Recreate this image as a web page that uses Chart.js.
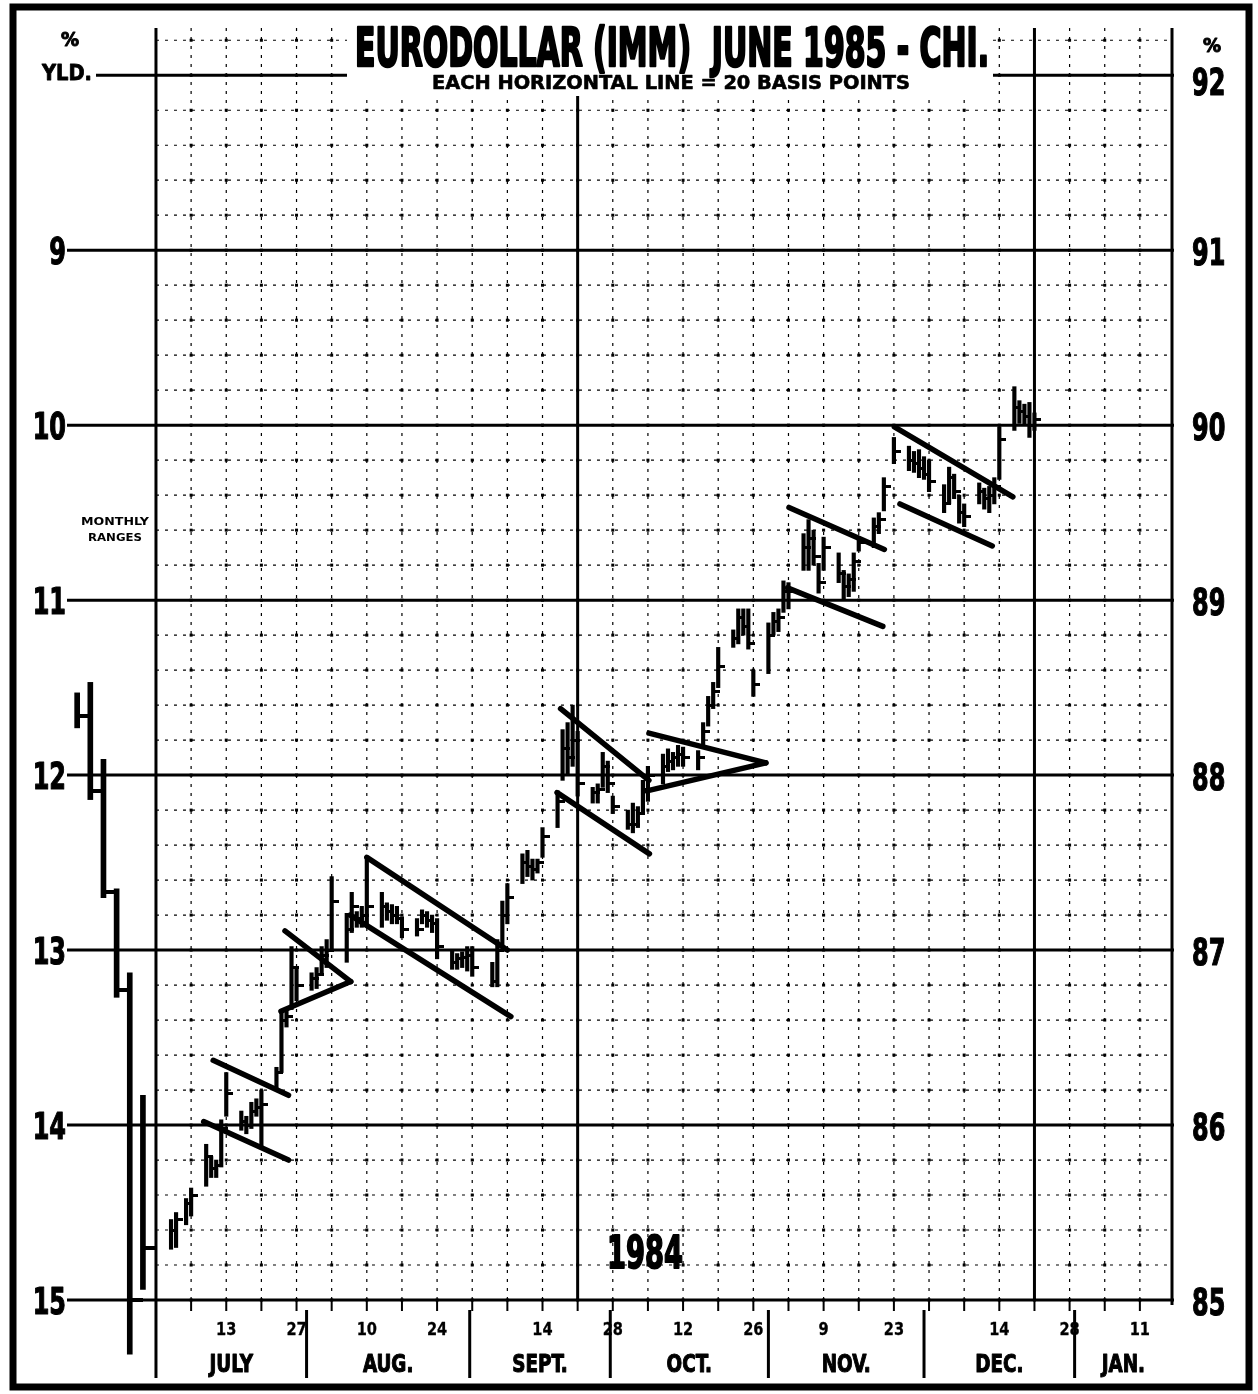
<!DOCTYPE html>
<html><head><meta charset="utf-8">
<script src="https://cdn.jsdelivr.net/npm/chart.js@4.4.1/dist/chart.umd.min.js"></script>
<style>html,body{margin:0;padding:0;background:#fff}#wrap{width:1258px;height:1394px;position:relative}</style>
</head><body><div id="wrap"><canvas id="c"></canvas></div>
<script>
// ---- DATA ----
// Daily June 1985 Eurodollar futures (IMM) bars, 1984
const dates = [
'1984-07-02','1984-07-03','1984-07-05','1984-07-06','1984-07-09','1984-07-10','1984-07-11','1984-07-12','1984-07-13',
'1984-07-16','1984-07-17','1984-07-18','1984-07-19','1984-07-20','1984-07-23','1984-07-24','1984-07-25','1984-07-26','1984-07-27',
'1984-07-30','1984-07-31','1984-08-01','1984-08-02','1984-08-03','1984-08-06','1984-08-07','1984-08-08','1984-08-09','1984-08-10',
'1984-08-13','1984-08-14','1984-08-15','1984-08-16','1984-08-17','1984-08-20','1984-08-21','1984-08-22','1984-08-23','1984-08-24',
'1984-08-27','1984-08-28','1984-08-29','1984-08-30','1984-08-31','1984-09-04','1984-09-05','1984-09-06','1984-09-07',
'1984-09-10','1984-09-11','1984-09-12','1984-09-13','1984-09-14','1984-09-17','1984-09-18','1984-09-19','1984-09-20','1984-09-21',
'1984-09-24','1984-09-25','1984-09-26','1984-09-27','1984-09-28','1984-10-01','1984-10-02','1984-10-03','1984-10-04','1984-10-05',
'1984-10-08','1984-10-09','1984-10-10','1984-10-11','1984-10-12','1984-10-15','1984-10-16','1984-10-17','1984-10-18','1984-10-19',
'1984-10-22','1984-10-23','1984-10-24','1984-10-25','1984-10-26','1984-10-29','1984-10-30','1984-10-31','1984-11-01','1984-11-02',
'1984-11-05','1984-11-06','1984-11-07','1984-11-08','1984-11-09','1984-11-12','1984-11-13','1984-11-14','1984-11-15','1984-11-16',
'1984-11-19','1984-11-20','1984-11-21','1984-11-23','1984-11-26','1984-11-27','1984-11-28','1984-11-29','1984-11-30',
'1984-12-03','1984-12-04','1984-12-05','1984-12-06','1984-12-07','1984-12-10','1984-12-11','1984-12-12','1984-12-13','1984-12-14',
'1984-12-17','1984-12-18','1984-12-19','1984-12-20','1984-12-21'];
const highs = [
85.46,85.50,85.58,85.64,85.89,85.82,85.80,86.03,86.30,
86.08,86.05,86.13,86.15,86.20,86.33,86.66,86.67,87.02,86.89,
86.87,86.90,87.02,87.06,87.42,87.21,87.33,87.22,87.25,87.53,
87.33,87.27,87.26,87.25,87.19,87.18,87.23,87.22,87.20,87.18,
87.00,86.98,86.99,87.02,87.02,86.93,87.06,87.28,87.38,
87.55,87.57,87.52,87.52,87.70,87.91,88.26,88.30,88.40,88.25,
87.93,87.95,88.13,88.08,87.88,87.80,87.84,87.82,87.97,88.05,
88.12,88.15,88.13,88.17,88.16,88.14,88.30,88.45,88.53,88.73,
88.83,88.95,88.95,88.95,88.60,88.87,88.93,88.95,89.11,89.10,
89.38,89.46,89.40,89.21,89.36,89.27,89.17,89.15,89.27,89.36,
89.47,89.50,89.70,89.93,89.88,89.85,89.86,89.82,89.80,
89.66,89.76,89.72,89.60,89.55,89.67,89.64,89.65,89.70,89.99,
90.22,90.14,90.12,90.13,90.07];
const lows = [
85.29,85.30,85.43,85.48,85.65,85.70,85.70,85.76,86.05,
85.97,85.95,85.98,86.05,85.87,86.20,86.30,86.56,86.66,86.71,
86.77,86.78,86.87,86.90,87.00,86.93,87.10,87.13,87.13,87.15,
87.13,87.17,87.15,87.15,87.07,87.08,87.15,87.13,87.10,86.95,
86.89,86.89,86.90,86.88,86.85,86.79,86.79,87.02,87.15,
87.38,87.42,87.40,87.44,87.53,87.70,87.97,88.00,88.05,87.88,
87.84,87.84,87.93,87.90,87.78,87.69,87.67,87.70,87.78,87.85,
87.95,88.02,88.03,88.05,88.05,88.03,88.17,88.28,88.38,88.50,
88.73,88.75,88.80,88.72,88.45,88.58,88.80,88.82,88.93,88.95,
89.17,89.17,89.20,89.04,89.17,89.10,89.00,89.02,89.05,89.28,
89.30,89.38,89.51,89.78,89.74,89.73,89.70,89.69,89.62,
89.50,89.55,89.58,89.44,89.42,89.55,89.52,89.50,89.55,89.69,
89.97,90.01,90.00,89.93,89.97];
const closes = [
85.40,85.46,85.55,85.60,85.82,85.75,85.77,85.98,86.18,
86.02,86.00,86.08,86.10,86.12,86.30,86.60,86.62,86.90,86.80,
86.84,86.86,86.97,87.00,87.28,87.12,87.25,87.18,87.20,87.25,
87.25,87.22,87.20,87.18,87.12,87.12,87.20,87.17,87.15,87.02,
86.93,86.95,86.96,86.97,86.90,86.82,87.00,87.20,87.30,
87.50,87.48,87.46,87.50,87.65,87.85,88.15,88.10,88.20,87.95,
87.90,87.92,88.05,87.95,87.82,87.72,87.72,87.78,87.92,88.00,
88.05,88.08,88.10,88.12,88.10,88.10,88.25,88.40,88.48,88.62,
88.78,88.90,88.85,88.75,88.52,88.80,88.88,88.90,89.05,89.05,
89.30,89.35,89.25,89.10,89.30,89.15,89.08,89.12,89.22,89.33,
89.42,89.46,89.65,89.85,89.80,89.78,89.75,89.72,89.68,
89.55,89.70,89.62,89.50,89.48,89.62,89.58,89.60,89.65,89.92,
90.10,90.08,90.05,90.00,90.03];

// Monthly ranges (left margin), first half of 1984
const monthlyLabels = ['JAN','FEB','MAR','APR','MAY','JUN'];
const monthlyHighs  = [88.47, 88.53, 88.09, 87.35, 86.87, 86.17];
const monthlyLows   = [88.27, 87.86, 87.30, 86.73, 84.69, 85.06];
const monthlyCloses = [88.34, 87.91, 87.33, 86.77, 85.00, 85.30];

// Hand-drawn trend lines: [day offset from 29 Jun 1984, price] pairs
const trendLines = [
  [[11.4,86.37],[26.4,86.17]],
  [[9.5,86.02],[26.4,85.80]],
  [[25.7,87.11],[38.8,86.82]],
  [[24.9,86.65],[38.8,86.82]],
  [[42.0,87.53],[70.0,87.00]],
  [[38.7,87.20],[70.7,86.62]],
  [[80.6,88.38],[98.2,87.97]],
  [[79.9,87.90],[98.3,87.55]],
  [[98.2,88.24],[121.5,88.07]],
  [[97.8,87.91],[121.5,88.07]],
  [[126.1,89.53],[145.1,89.29]],
  [[125.8,89.07],[144.8,88.85]],
  [[147.1,89.99],[170.7,89.59]],
  [[148.2,89.55],[166.6,89.31]]
];

// Axis text
const tickDates = ['1984-07-13','1984-07-27','1984-08-10','1984-08-24','1984-09-14','1984-09-28','1984-10-12','1984-10-26','1984-11-09','1984-11-23','1984-12-14','1984-12-28','1985-01-11'];
const monthNames = ['JULY','AUG.','SEPT.','OCT.','NOV.','DEC.','JAN.'];
const monthBreakDays = [0, 30, 62.5, 90.5, 122, 153, 183];
const priceLevels = [85, 86, 87, 88, 89, 90, 91, 92];
const quarterLineDays = [0, 84, 175];

// ---- helpers ----
const BASE = Date.UTC(1984, 5, 29);
const day = s => (Date.parse(s + 'T00:00:00Z') - BASE) / 864e5;
const F = "'DejaVu Sans Condensed','DejaVu Sans',sans-serif";

function tickImage(len, th) {
  const c = document.createElement('canvas');
  c.width = len * 2; c.height = th;
  const g = c.getContext('2d');
  g.fillStyle = '#000'; g.fillRect(len, 0, len, th);
  return c;
}
function txt(ctx, s, x, y, o) {
  ctx.save();
  ctx.font = o.font; ctx.fillStyle = '#000'; ctx.textBaseline = 'alphabetic'; ctx.textAlign = 'left';
  const w = ctx.measureText(s).width;
  const sx = o.sx || (o.w ? o.w / w : 1);
  const align = o.align || 'center';
  const left = align === 'center' ? x - w * sx / 2 : align === 'right' ? x - w * sx : x;
  ctx.translate(left, y); ctx.scale(sx, 1);
  ctx.fillText(s, 0, 0);
  if (o.stroke) { ctx.lineWidth = o.stroke; ctx.strokeStyle = '#000'; ctx.lineJoin = 'round'; ctx.strokeText(s, 0, 0); }
  ctx.restore();
}
function seg(ctx, x1, y1, x2, y2) { ctx.beginPath(); ctx.moveTo(x1, y1); ctx.lineTo(x2, y2); ctx.stroke(); }

const monthlyX = monthlyLabels.map((m, i) => -15.7 + i * 2.62);

const gridPlugin = {
  id: 'chartPaper',
  beforeDatasetsDraw(chart) {
    const ctx = chart.ctx, a = chart.chartArea;
    const X = v => chart.scales.x.getPixelForValue(v), Y = v => chart.scales.y.getPixelForValue(v);
    const x0 = X(0), xR = a.right, yT = a.top, yB = a.bottom;
    ctx.save();
    ctx.strokeStyle = '#000'; ctx.fillStyle = '#000';
    // dashed rows every 20 basis points
    ctx.lineWidth = 1.2; ctx.setLineDash([3, 6]);
    for (let k = 1; k <= 36; k++) { if (k % 5 === 0) continue; const y = Y(85 + k / 5); seg(ctx, x0, y, xR, y); }
    // dashed weekly columns
    for (let d = 7; d <= 196; d += 7) { if (quarterLineDays.includes(d)) continue; const x = X(d); seg(ctx, x, yT, x, yB); }
    ctx.setLineDash([]);
    // intersection dots
    for (let d = 7; d <= 196; d += 7) for (let k = 0; k <= 36; k++) { ctx.fillRect(X(d) - 1.5, Y(85 + k / 5) - 1.5, 3, 3); }
    // solid integer lines
    ctx.lineWidth = 3;
    priceLevels.forEach(p => { const y = Y(p); seg(ctx, p === 92 ? 96 : 67, y, xR + 2, y); });
    // quarter / border verticals
    quarterLineDays.forEach(d => { const x = X(d); seg(ctx, x, yT, x, d === 0 ? 1378 : yB); });
    seg(ctx, xR, yT, xR, yB + 5);
    // weekly ticks under axis
    ctx.lineWidth = 2;
    for (let d = 0; d <= 196; d += 7) { const x = X(d); seg(ctx, x, yB, x, yB + 11); }
    // month separators
    ctx.lineWidth = 3;
    monthBreakDays.slice(1).forEach(d => { const x = X(d); seg(ctx, x, yB + 10, x, 1378); });
    // title knock-out
    ctx.fillStyle = '#fff'; ctx.fillRect(347, 20, 646, 76);
    ctx.restore();
  },
  afterDraw(chart) {
    const ctx = chart.ctx, a = chart.chartArea;
    const X = v => chart.scales.x.getPixelForValue(v), Y = v => chart.scales.y.getPixelForValue(v);
    ctx.save();
    // frame
    ctx.strokeStyle = '#000'; ctx.lineWidth = 7; ctx.strokeRect(13, 7, 1236, 1380);
    // title
    txt(ctx, 'EURODOLLAR (IMM)  JUNE 1985 - CHI.', 672, 66, {font: 'bold 54px ' + F, w: 634, stroke: 2.6});
    txt(ctx, 'EACH HORIZONTAL LINE = 20 BASIS POINTS', 671, 89, {font: 'bold 20px ' + F, w: 478, stroke: 0.6});
    // left yield axis
    txt(ctx, '%', 70, 46, {font: 'bold 20px ' + F, stroke: 1});
    txt(ctx, 'YLD.', 42, 80, {font: 'bold 22px ' + F, w: 50, align: 'left', stroke: 0.8});
    priceLevels.filter(p => p < 92).forEach(p => {
      txt(ctx, String(100 - p), 66, Y(p) + 14, {font: 'bold 38px ' + F, sx: 0.7, align: 'right', stroke: 1.2});
    });
    // right price axis
    txt(ctx, '%', 1212, 52, {font: 'bold 20px ' + F, stroke: 1});
    priceLevels.forEach(p => {
      txt(ctx, String(p), 1192, Y(p) + (p === 92 ? 20 : 15), {font: 'bold 38px ' + F, sx: 0.7, align: 'left', stroke: 1.2});
    });
    // monthly ranges note
    txt(ctx, 'MONTHLY', 115, 525, {font: 'bold 10px ' + F, w: 68});
    txt(ctx, 'RANGES', 115, 541, {font: 'bold 10px ' + F, w: 54});
    // year
    txt(ctx, '1984', 645, 1268, {font: 'bold 44px ' + F, w: 76, stroke: 1.8});
    // date ticks
    tickDates.forEach(s => {
      const d = day(s);
      txt(ctx, String(new Date(Date.parse(s + 'T00:00:00Z')).getUTCDate()), X(d), 1335, {font: 'bold 18px ' + F, sx: 0.9, stroke: 0.3});
    });
    // month names
    monthNames.forEach((m, i) => {
      const d0 = monthBreakDays[i], d1 = i + 1 < monthBreakDays.length ? monthBreakDays[i + 1] : chart.scales.x.max;
      txt(ctx, m, (X(d0) + X(d1)) / 2, 1372, {font: 'bold 24px ' + F, sx: 0.85, stroke: 1});
    });
    ctx.restore();
  }
};

const datasets = [];
datasets.push({
  type: 'bar', label: 'daily range',
  data: dates.map((s, i) => ({x: day(s), y: [lows[i], highs[i]]})),
  backgroundColor: '#000', borderWidth: 0, barThickness: 3.5, grouped: false, order: 3
});
datasets.push({
  type: 'scatter', label: 'daily close',
  data: dates.map((s, i) => ({x: day(s), y: closes[i]})),
  pointStyle: tickImage(7, 3), pointRadius: 3, order: 2
});
datasets.push({
  type: 'bar', label: 'monthly range',
  data: monthlyLabels.map((m, i) => ({x: monthlyX[i], y: [monthlyLows[i], monthlyHighs[i]]})),
  backgroundColor: '#000', borderWidth: 0, barThickness: 5, grouped: false, clip: false, order: 3
});
datasets.push({
  type: 'scatter', label: 'monthly close',
  data: monthlyLabels.map((m, i) => ({x: monthlyX[i], y: monthlyCloses[i]})),
  pointStyle: tickImage(13, 4), pointRadius: 3, clip: false, order: 2
});
trendLines.forEach((t, i) => datasets.push({
  type: 'line', label: 'trend ' + i,
  data: t.map(p => ({x: p[0], y: p[1]})),
  borderColor: '#000', borderWidth: 5.5, pointRadius: 0, borderCapStyle: 'round', tension: 0, fill: false, order: 1
}));

new Chart(document.getElementById('c'), {
  type: 'bar',
  data: {datasets},
  options: {
    responsive: true, maintainAspectRatio: false, animation: false, events: [],
    layout: {padding: {left: 74, right: 86, top: 28, bottom: 94}},
    plugins: {legend: {display: false}, tooltip: {enabled: false}},
    scales: {
      x: {type: 'linear', min: -16.33, max: 202.4, offset: false, display: false},
      y: {type: 'linear', min: 85, max: 92.27, display: false}
    }
  },
  plugins: [gridPlugin]
});
</script>
</body></html>
